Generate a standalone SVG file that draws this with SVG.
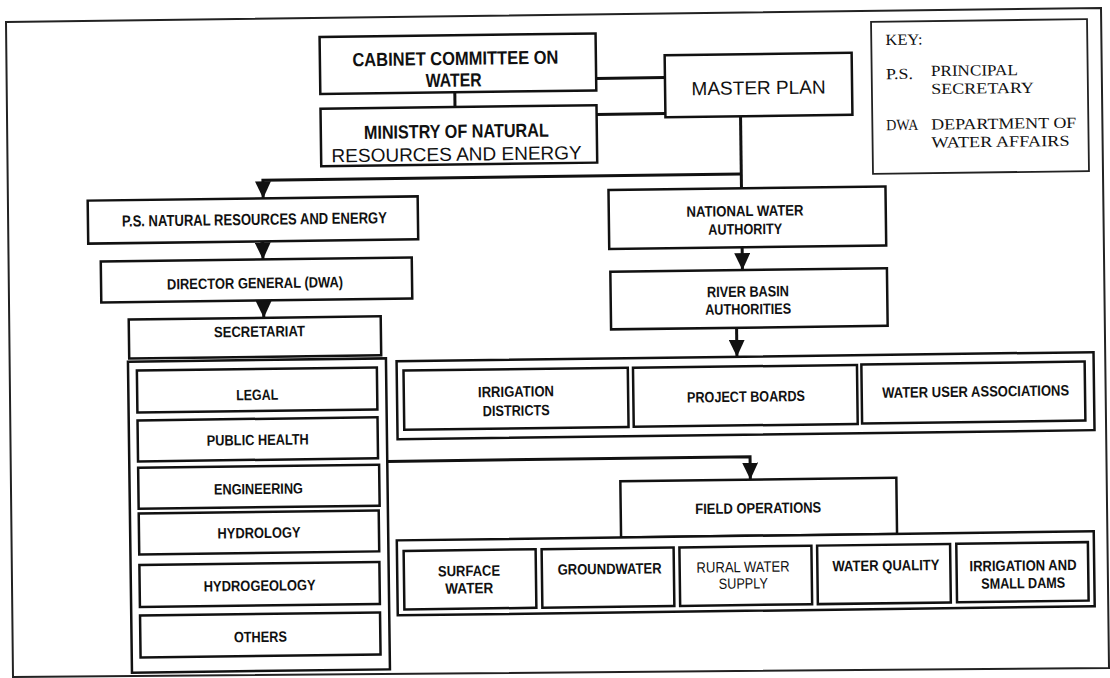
<svg xmlns="http://www.w3.org/2000/svg" width="1110" height="678" viewBox="0 0 1110 678">
<style>
.box{fill:#fff;stroke:#111;stroke-width:2.5}
.t{font-family:"Liberation Sans",Arial,sans-serif;font-weight:bold;font-size:15px;text-anchor:middle;fill:#111}
.big{font-size:19px}
.mid{font-size:16px}
.r{font-weight:normal}
.k{font-family:"Liberation Serif","Times New Roman",serif;font-size:15.5px;fill:#111}
.conn{fill:none;stroke:#111;stroke-width:3}
</style>
<defs>
<marker id="ah" viewBox="0 0 17 16" refX="17" refY="8" markerWidth="17" markerHeight="16" markerUnits="userSpaceOnUse" orient="auto">
<path d="M0,0 L17,8 L0,16 z" fill="#111"/>
</marker>
</defs>
<rect width="1110" height="678" fill="#fff"/>
<polygon points="6,22 1101,8 1109,668 13,677" fill="none" stroke="#222" stroke-width="2"/>
<g transform="rotate(-0.74 555 339)">
<g id="connectors">
<path class="conn" d="M458,90.8 V105.7"/>
<path class="conn" d="M599.5,79 H668.3"/>
<path class="conn" d="M599.5,115 H668.3"/>
<path class="conn" d="M743.4,118.6 V190.8"/>
<path class="conn" d="M743.4,176.4 H265 V194.6" marker-end="url(#ah)"/>
<path class="conn" d="M264,237.6 V255.7" marker-end="url(#ah)"/>
<path class="conn" d="M264.1,296.7 V314.1" marker-end="url(#ah)"/>
<path class="conn" d="M743.3,249.8 V272.5" marker-end="url(#ah)"/>
<path class="conn" d="M736.7,330.1 V359.1" marker-end="url(#ah)"/>
<path class="conn" d="M385.7,459.2 H748.5 V482.1" marker-end="url(#ah)"/>
</g>
<g id="cabinet">
<rect class="box" x="323.5" y="34" width="276" height="57"/>
<text class="t big" x="459" y="63.7" textLength="206" lengthAdjust="spacingAndGlyphs">CABINET COMMITTEE ON</text>
<text class="t big" x="457" y="85.4" textLength="56" lengthAdjust="spacingAndGlyphs">WATER</text>
</g>
<g id="ministry">
<rect class="box" x="323.5" y="105.7" width="276" height="57.5"/>
<text class="t big" x="459" y="136.5" textLength="185" lengthAdjust="spacingAndGlyphs">MINISTRY OF NATURAL</text>
<text class="t big r" x="459" y="159.5">RESOURCES AND ENERGY</text>
</g>
<g id="master-plan">
<rect class="box" x="668.3" y="56.6" width="187" height="62"/>
<text class="t big r" x="761.8" y="97">MASTER PLAN</text>
</g>
<g id="key">
<rect x="875.1" y="26" width="216" height="152" fill="#fff" stroke="#222" stroke-width="1.8"/>
<text class="k" x="889.3" y="49.3" textLength="37" lengthAdjust="spacingAndGlyphs">KEY:</text>
<text class="k" x="889.3" y="83.5" textLength="27" lengthAdjust="spacingAndGlyphs">P.S.</text>
<text class="k" x="934.3" y="81" textLength="87" lengthAdjust="spacingAndGlyphs">PRINCIPAL</text>
<text class="k" x="934.3" y="99" textLength="103" lengthAdjust="spacingAndGlyphs">SECRETARY</text>
<text class="k" x="889" y="134.5" textLength="32" lengthAdjust="spacingAndGlyphs">DWA</text>
<text class="k" x="934" y="134.5" textLength="145" lengthAdjust="spacingAndGlyphs">DEPARTMENT OF</text>
<text class="k" x="934" y="152.5" textLength="138" lengthAdjust="spacingAndGlyphs">WATER AFFAIRS</text>
</g>
<g id="ps">
<rect class="box" x="89.5" y="194.6" width="330" height="43"/>
<text class="t mid" x="256" y="221" textLength="265" lengthAdjust="spacingAndGlyphs">P.S. NATURAL RESOURCES AND ENERGY</text>
</g>
<g id="director-general">
<rect class="box" x="101.8" y="255.7" width="311" height="41"/>
<text class="t" x="255.8" y="284.4" textLength="176" lengthAdjust="spacingAndGlyphs">DIRECTOR GENERAL (DWA)</text>
</g>
<g id="secretariat">
<rect class="box" x="129" y="314.1" width="252" height="39"/>
<text class="t" x="259.5" y="332.9" textLength="91" lengthAdjust="spacingAndGlyphs">SECRETARIAT</text>
</g>
<g id="departments">
<rect class="box" x="127.7" y="356.2" width="258" height="311"/>
</g>
<g id="legal">
<rect class="box" x="136.5" y="365.2" width="240" height="42"/>
<text class="t" x="256.5" y="396.2" textLength="42" lengthAdjust="spacingAndGlyphs">LEGAL</text>
</g>
<g id="public-health">
<rect class="box" x="136.5" y="415" width="240" height="41"/>
<text class="t" x="256.5" y="441.2" textLength="102" lengthAdjust="spacingAndGlyphs">PUBLIC HEALTH</text>
</g>
<g id="engineering">
<rect class="box" x="136.5" y="462.4" width="241" height="41"/>
<text class="t" x="256.5" y="490.2" textLength="89" lengthAdjust="spacingAndGlyphs">ENGINEERING</text>
</g>
<g id="hydrology">
<rect class="box" x="136.5" y="508.1" width="240" height="41"/>
<text class="t" x="256.5" y="534.2" textLength="83" lengthAdjust="spacingAndGlyphs">HYDROLOGY</text>
</g>
<g id="hydrogeology">
<rect class="box" x="136.5" y="559.7" width="240" height="42"/>
<text class="t" x="256.5" y="587" textLength="112" lengthAdjust="spacingAndGlyphs">HYDROGEOLOGY</text>
</g>
<g id="others">
<rect class="box" x="136.5" y="610.2" width="240" height="42"/>
<text class="t" x="256.5" y="638.2" textLength="53" lengthAdjust="spacingAndGlyphs">OTHERS</text>
</g>
<g id="national-water-authority">
<rect class="box" x="610.4" y="190.8" width="277" height="59"/>
<text class="t" x="746.6" y="218.5" textLength="117" lengthAdjust="spacingAndGlyphs">NATIONAL WATER</text>
<text class="t" x="746.6" y="236.8" textLength="74" lengthAdjust="spacingAndGlyphs">AUTHORITY</text>
</g>
<g id="river-basin-authorities">
<rect class="box" x="611.2" y="272.5" width="276.6" height="57.6"/>
<text class="t" x="748.5" y="299.2" textLength="82" lengthAdjust="spacingAndGlyphs">RIVER BASIN</text>
<text class="t" x="748.5" y="316.8" textLength="86" lengthAdjust="spacingAndGlyphs">AUTHORITIES</text>
</g>
<g id="basin-bodies">
<rect class="box" x="396.3" y="359.1" width="697" height="78"/>
</g>
<g id="irrigation-districts">
<rect class="box" x="403.1" y="368.6" width="224.3" height="59.3"/>
<text class="t" x="515.3" y="396.2" textLength="76" lengthAdjust="spacingAndGlyphs">IRRIGATION</text>
<text class="t" x="515.3" y="415.2" textLength="67" lengthAdjust="spacingAndGlyphs">DISTRICTS</text>
</g>
<g id="project-boards">
<rect class="box" x="632.6" y="368.8" width="224" height="59"/>
<text class="t" x="745.2" y="404.2" textLength="118" lengthAdjust="spacingAndGlyphs">PROJECT BOARDS</text>
</g>
<g id="water-user-associations">
<rect class="box" x="861" y="368.4" width="223.3" height="59"/>
<text class="t" x="974.9" y="402.1" textLength="187" lengthAdjust="spacingAndGlyphs">WATER USER ASSOCIATIONS</text>
</g>
<g id="field-operations">
<rect class="box" x="618.5" y="482.1" width="276" height="56.2"/>
<text class="t" x="756" y="515.9" textLength="126" lengthAdjust="spacingAndGlyphs">FIELD OPERATIONS</text>
</g>
<g id="field-units">
<rect class="box" x="394.2" y="538.3" width="697" height="75"/>
</g>
<g id="surface-water">
<rect class="box" x="400.9" y="549" width="132" height="58.5"/>
<text class="t" x="466" y="574.9" textLength="62" lengthAdjust="spacingAndGlyphs">SURFACE</text>
<text class="t" x="466" y="592.2" textLength="48" lengthAdjust="spacingAndGlyphs">WATER</text>
</g>
<g id="groundwater">
<rect class="box" x="538.9" y="549" width="132" height="58.5"/>
<text class="t" x="606.6" y="574.7" textLength="104" lengthAdjust="spacingAndGlyphs">GROUNDWATER</text>
</g>
<g id="rural-water-supply">
<rect class="box" x="676.7" y="549" width="132" height="58.5"/>
<text class="t r" x="740.1" y="574.5" textLength="93" lengthAdjust="spacingAndGlyphs">RURAL WATER</text>
<text class="t r" x="740.1" y="591" textLength="49" lengthAdjust="spacingAndGlyphs">SUPPLY</text>
</g>
<g id="water-quality">
<rect class="box" x="814.4" y="549" width="133" height="58.5"/>
<text class="t" x="883" y="574.9" textLength="107" lengthAdjust="spacingAndGlyphs">WATER QUALITY</text>
</g>
<g id="irrigation-small-dams">
<rect class="box" x="953.6" y="549" width="131.6" height="58.5"/>
<text class="t" x="1020" y="576.7" textLength="107" lengthAdjust="spacingAndGlyphs">IRRIGATION AND</text>
<text class="t" x="1020" y="594.3" textLength="84" lengthAdjust="spacingAndGlyphs">SMALL DAMS</text>
</g>
</g>
</svg>
